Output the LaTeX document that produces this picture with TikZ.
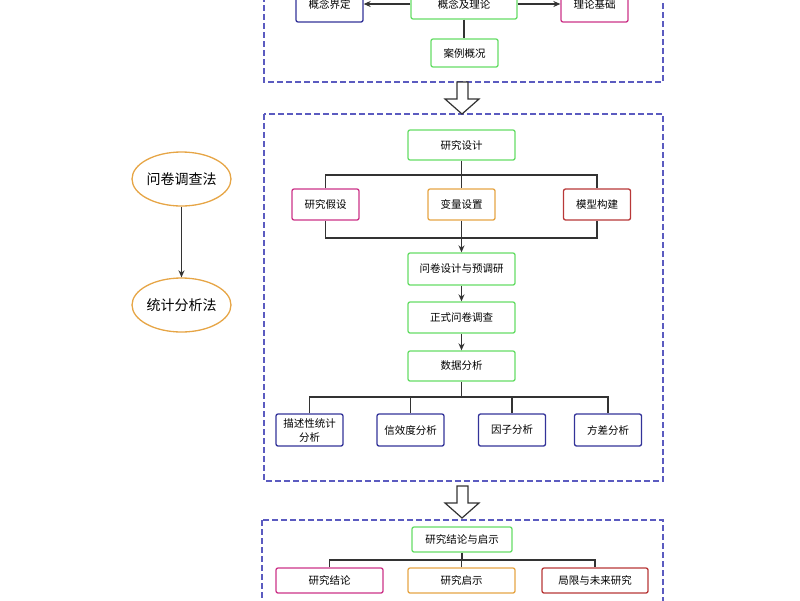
\documentclass[tikz,border=0pt]{standalone}
\usepackage{fontspec}
\setmainfont{Noto Sans CJK SC}
\usetikzlibrary{shapes.geometric,arrows.meta}
\definecolor{cgreen}{HTML}{66DD66}
\definecolor{cblue}{HTML}{333399}
\definecolor{cpink}{HTML}{CC3388}
\definecolor{corange}{HTML}{E6A545}
\definecolor{cred}{HTML}{B83838}
\definecolor{cdash}{HTML}{5B5BC0}
\definecolor{cline}{HTML}{333333}
\tikzset{
  box/.style={draw, rounded corners=2pt, line width=1.3pt, inner sep=0pt, align=center,
    fill=white, font=\fontsize{10.5}{14}\selectfont, text=black},
  gbox/.style={box, draw=cgreen},
  bbox/.style={box, draw=cblue},
  pbox/.style={box, draw=cpink},
  obox/.style={box, draw=corange},
  rbox/.style={box, draw=cred},
  frame/.style={draw=cdash, line width=1.2pt, dash pattern=on 6pt off 3pt},
  conn/.style={draw=cline, line width=1.2pt},
  arr/.style={conn, -{Stealth[length=7pt,width=6pt]}},
  meth/.style={ellipse, draw=corange, line width=1.3pt, minimum width=81pt, minimum height=54pt,
    inner sep=0pt, font=\fontsize{14}{16}\selectfont, text=black},
  hollow/.style={draw=cline, line width=1.2pt, fill=white, line join=miter}
}
\begin{document}
\begin{tikzpicture}[x=1pt,y=-1pt]
\useasboundingbox (0,0) rectangle (800,600);
% frames
\draw[frame] (264,-40) rectangle (663,82);
\draw[frame] (264,114) rectangle (663,481);
\draw[frame] (262,520) rectangle (663,640);
% top section
\node[gbox, minimum width=106pt, minimum height=30pt] (gl) at (464,4) {概念及理论};
\node[bbox, minimum width=67pt, minimum height=36pt] (gnjd) at (329.5,4) {概念界定};
\node[pbox, minimum width=67pt, minimum height=36pt] (lljc) at (594.5,4) {理论基础};
\node[gbox, minimum width=67pt, minimum height=28pt] (alkk) at (464.5,53) {案例概况};
\draw[arr] (gl) -- (gnjd);
\draw[arr] (gl) -- (lljc);
\draw[conn] (gl.south) -- (gl.south |- alkk.north);
% hollow arrows
\draw[hollow] (457,82) -- (468,82) -- (468,99) -- (479,99) -- (462,114) -- (445,99) -- (457,99) -- cycle;
\draw[hollow] (457,486) -- (468,486) -- (468,503) -- (479,503) -- (462,518) -- (445,503) -- (457,503) -- cycle;
% middle section
\node[gbox, minimum width=107pt, minimum height=30pt] (yjsj) at (461.5,145) {研究设计};
\node[pbox, minimum width=67pt, minimum height=31pt] (yjjs) at (325.5,204.5) {研究假设};
\node[obox, minimum width=67pt, minimum height=31pt] (blsz) at (461.5,204.5) {变量设置};
\node[rbox, minimum width=67pt, minimum height=31pt] (mxgj) at (597,204.5) {模型构建};
\node[gbox, minimum width=107pt, minimum height=32pt] (wjsj) at (461.5,269) {问卷设计与预调研};
\node[gbox, minimum width=107pt, minimum height=31pt] (zswj) at (461.5,317.5) {正式问卷调查};
\node[gbox, minimum width=107pt, minimum height=30pt] (sjfx) at (461.5,366) {数据分析};
\node[bbox, minimum width=67pt, minimum height=32pt] (msx) at (309.5,430) {描述性统计\\分析};
\node[bbox, minimum width=67pt, minimum height=32pt] (xxd) at (410.5,430) {信效度分析};
\node[bbox, minimum width=67pt, minimum height=32pt] (yzfx) at (512,430) {因子分析};
\node[bbox, minimum width=67pt, minimum height=32pt] (fcfx) at (608,430) {方差分析};
\coordinate (t1) at (461.5,175);
\coordinate (t2) at (461.5,238);
\draw[conn] (yjsj.south) -- (blsz.north);
\draw[conn] (yjjs.north) |- (t1) -| (mxgj.north);
\draw[conn] (yjjs.south) |- (t2) -| (mxgj.south);
\draw[arr] (blsz.south) -- (wjsj.north);
\draw[arr] (wjsj) -- (zswj);
\draw[arr] (zswj) -- (sjfx);
\coordinate (t3) at (461.5,397);
\draw[conn] (sjfx.south) -- (t3);
\draw[conn] (msx.north) |- (t3) -| (fcfx.north);
\draw[conn] (xxd.north) -- (xxd.north |- t3);
\draw[conn] (yzfx.north) -- (yzfx.north |- t3);
% bottom section
\node[gbox, minimum width=100pt, minimum height=25pt] (jlqs) at (462,539.5) {研究结论与启示};
\node[pbox, minimum width=107pt, minimum height=25pt] (yjjl) at (329.5,580.5) {研究结论};
\node[obox, minimum width=107pt, minimum height=25pt] (yjqs) at (461.5,580.5) {研究启示};
\node[rbox, minimum width=106pt, minimum height=25pt] (jxwl) at (595,580.5) {局限与未来研究};
\coordinate (t4) at (462,560);
\draw[conn] (jlqs.south) -- (t4);
\draw[conn] (yjjl.north) |- (t4) -| (jxwl.north);
\draw[conn] (yjqs.north) -- (yjqs.north |- t4);
% left methods
\node[meth] (wjdc) at (181.5,179) {问卷调查法};
\node[meth] (tjfx) at (181.5,305) {统计分析法};
\draw[arr] (wjdc) -- (tjfx);
\end{tikzpicture}
\end{document}
